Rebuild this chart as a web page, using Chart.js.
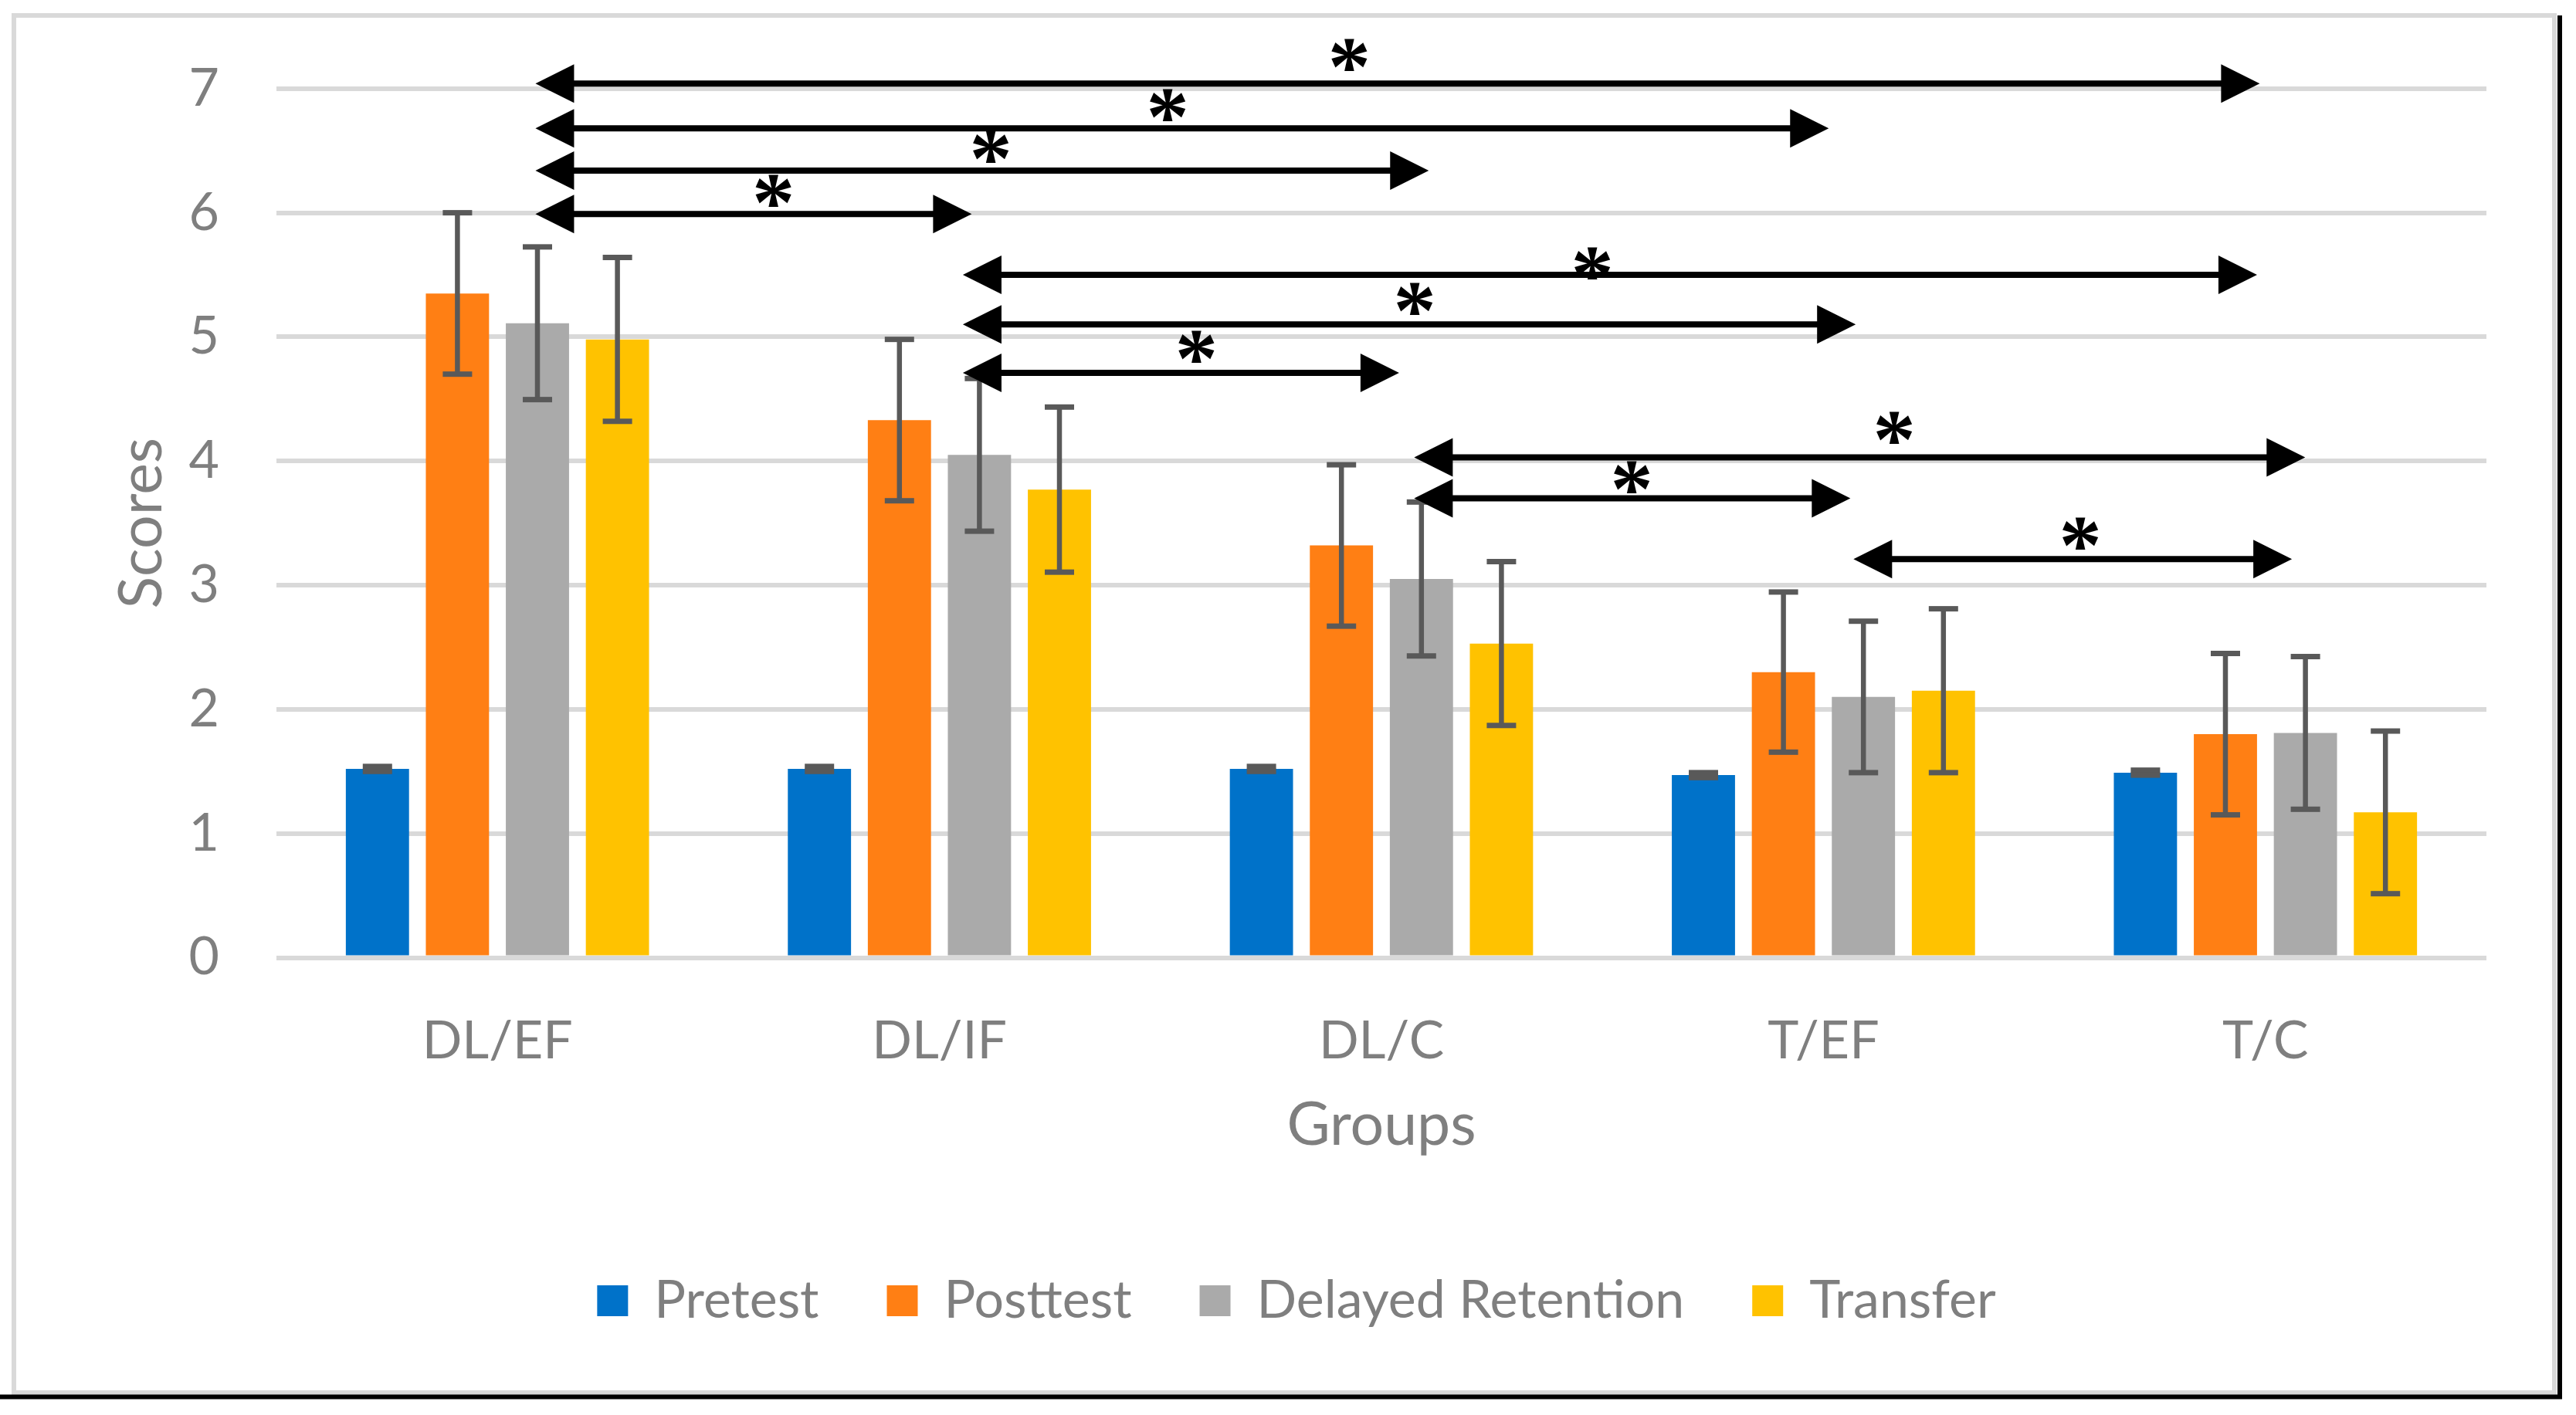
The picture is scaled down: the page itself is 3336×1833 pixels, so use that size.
<!DOCTYPE html>
<html><head><meta charset="utf-8">
<script src="https://cdn.jsdelivr.net/npm/chart.js@4.4.1/dist/chart.umd.min.js"></script>
<style>html,body{margin:0;padding:0;background:#fff;overflow:hidden}canvas{display:block}</style>
</head><body>
<canvas id="c" width="3336" height="1833" style="width:3336px;height:1833px"></canvas>
<script>
// ---- data ----
const categories = ['DL/EF', 'DL/IF', 'DL/C', 'T/EF', 'T/C'];
const seriesNames = ['Pretest', 'Posttest', 'Delayed Retention', 'Transfer'];
const pretest     = [1.52, 1.52, 1.52, 1.47, 1.49];
const pretestErr  = [0.02, 0.02, 0.02, 0.02, 0.02];
const posttest    = [5.35, 4.33, 3.32, 2.30, 1.80];
const posttestErr = [0.65, 0.65, 0.65, 0.645, 0.65];
const delayed     = [5.11, 4.05, 3.05, 2.10, 1.81];
const delayedErr  = [0.615, 0.615, 0.62, 0.61, 0.615];
const transfer    = [4.98, 3.77, 2.53, 2.15, 1.17];
const transferErr = [0.66, 0.665, 0.66, 0.66, 0.655];
const yTicks = [0, 1, 2, 3, 4, 5, 6, 7];
// significance arrows: y level (score), from / to (category position), star position
const arrowY    = [7.04, 6.68, 6.34, 5.99, 5.50, 5.10, 4.71, 4.03, 3.70, 3.21];
const arrowFrom = [0.086, 0.086, 0.086, 0.086, 1.053, 1.053, 1.053, 2.074, 2.074, 3.068];
const arrowTo   = [3.987, 3.012, 2.107, 1.073, 3.981, 3.073, 2.040, 4.090, 3.061, 4.060];
const starX     = [1.927, 1.516, 1.116, 0.624, 2.477, 2.075, 1.581, 3.160, 2.566, 3.581];
const starY     = [7.275, 6.87, 6.53, 6.18, 5.595, 5.31, 4.92, 4.27, 3.87, 3.42];

const colors = ['#0072C9', '#FF7F14', '#AAAAAA', '#FFC200'];
const values = [pretest, posttest, delayed, transfer];
const errors = [pretestErr, posttestErr, delayedErr, transferErr];

Chart.defaults.font.family = 'Lato';
Chart.defaults.color = '#7F7F7F';

const framePlugin = {
  id: 'frame',
  beforeDraw(chart) {
    const ctx = chart.ctx;
    ctx.save();
    ctx.fillStyle = '#fff';
    ctx.fillRect(0, 0, chart.width, chart.height);
    ctx.restore();
  },
  afterDraw(chart) {
    const ctx = chart.ctx;
    ctx.save();
    ctx.strokeStyle = '#D9D9D9';
    ctx.lineWidth = 6;
    ctx.strokeRect(18, 20, 3290, 1784);
    ctx.strokeStyle = '#000';
    ctx.lineWidth = 6;
    ctx.beginPath();
    ctx.moveTo(3315, 20); ctx.lineTo(3315, 1812);
    ctx.moveTo(0, 1809.5); ctx.lineTo(3318, 1809.5);
    ctx.stroke();
    ctx.restore();
  }
};

const errorPlugin = {
  id: 'errbars',
  afterDatasetsDraw(chart) {
    const ctx = chart.ctx, ys = chart.scales.y;
    ctx.save();
    ctx.strokeStyle = '#595959';
    ctx.fillStyle = '#595959';
    errors.forEach((errs, di) => {
      const meta = chart.getDatasetMeta(di);
      meta.data.forEach((bar, j) => {
        const v = values[di][j], e = errs[j];
        const t = ys.getPixelForValue(v + e), b = ys.getPixelForValue(v - e);
        ctx.lineWidth = 6.5;
        ctx.beginPath();
        ctx.moveTo(bar.x, t); ctx.lineTo(bar.x, b);
        ctx.stroke();
        ctx.fillRect(bar.x - 19, t - 3.5, 38, 7);
        ctx.fillRect(bar.x - 19, b - 3.5, 38, 7);
      });
    });
    ctx.restore();
  }
};

const arrowPlugin = {
  id: 'arrows',
  afterDraw(chart) {
    const ctx = chart.ctx, xs = chart.scales.x, ys = chart.scales.y;
    const hl = 50, hw = 25;
    ctx.save();
    ctx.fillStyle = '#000';
    ctx.strokeStyle = '#000';
    arrowY.forEach((yv, i) => {
      const y = ys.getPixelForValue(yv);
      const x1 = xs.getPixelForValue(arrowFrom[i]);
      const x2 = xs.getPixelForValue(arrowTo[i]);
      ctx.lineWidth = 8;
      ctx.beginPath();
      ctx.moveTo(x1 + hl - 2, y); ctx.lineTo(x2 - hl + 2, y);
      ctx.stroke();
      ctx.beginPath();
      ctx.moveTo(x1, y); ctx.lineTo(x1 + hl, y - hw); ctx.lineTo(x1 + hl, y + hw); ctx.closePath();
      ctx.fill();
      ctx.beginPath();
      ctx.moveTo(x2, y); ctx.lineTo(x2 - hl, y - hw); ctx.lineTo(x2 - hl, y + hw); ctx.closePath();
      ctx.fill();
    });
    // stars
    ctx.font = 'bold 100px "Liberation Serif"';
    const m0 = ctx.measureText('*');
    const h0 = m0.actualBoundingBoxAscent + m0.actualBoundingBoxDescent;
    const size = 100 * 42 / h0;
    ctx.font = 'bold ' + size.toFixed(1) + 'px "Liberation Serif"';
    ctx.textAlign = 'left';
    ctx.textBaseline = 'alphabetic';
    const m = ctx.measureText('*');
    starX.forEach((sx, i) => {
      const px = xs.getPixelForValue(sx);
      const py = ys.getPixelForValue(starY[i]);
      const ox = px - (m.actualBoundingBoxRight - m.actualBoundingBoxLeft) / 2;
      const oy = py + (m.actualBoundingBoxAscent - m.actualBoundingBoxDescent) / 2;
      ctx.fillText('*', ox, oy);
    });
    ctx.restore();
  }
};

new Chart(document.getElementById('c'), {
  type: 'bar',
  data: {
    labels: categories,
    datasets: seriesNames.map((n, i) => ({
      label: n,
      data: values[i],
      backgroundColor: colors[i],
      borderWidth: 0,
      categoryPercentage: 0.724,
      barPercentage: 0.79
    }))
  },
  options: {
    responsive: false,
    devicePixelRatio: 1,
    animation: false,
    layout: { padding: { top: 111.6, right: 116, bottom: 104, left: 138 } },
    plugins: {
      legend: {
        position: 'bottom',
        labels: { boxWidth: 40, boxHeight: 40, padding: 88, color: '#7F7F7F', font: { size: 68 } }
      },
      tooltip: { enabled: false }
    },
    scales: {
      x: {
        grid: { display: false },
        border: { display: false },
        ticks: { color: '#7F7F7F', font: { size: 68 }, padding: 60 },
        title: { display: true, text: 'Groups', color: '#7F7F7F', font: { size: 77 }, padding: { top: 0, bottom: 59 } },
        afterFit(s) { s.height = 322.5; }
      },
      y: {
        min: 0, max: 7,
        grid: { color: '#D9D9D9', lineWidth: 6, drawTicks: false },
        border: { display: false },
        afterBuildTicks(s) { s.ticks = yTicks.map(v => ({ value: v })); },
        ticks: { color: '#7F7F7F', font: { size: 68 }, padding: 74 },
        title: { display: true, text: 'Scores', color: '#7F7F7F', font: { size: 77 }, padding: { top: 0, bottom: 0 } },
        afterFit(s) { s.width = 220; }
      }
    }
  },
  plugins: [framePlugin, errorPlugin, arrowPlugin]
});
</script>
</body></html>
